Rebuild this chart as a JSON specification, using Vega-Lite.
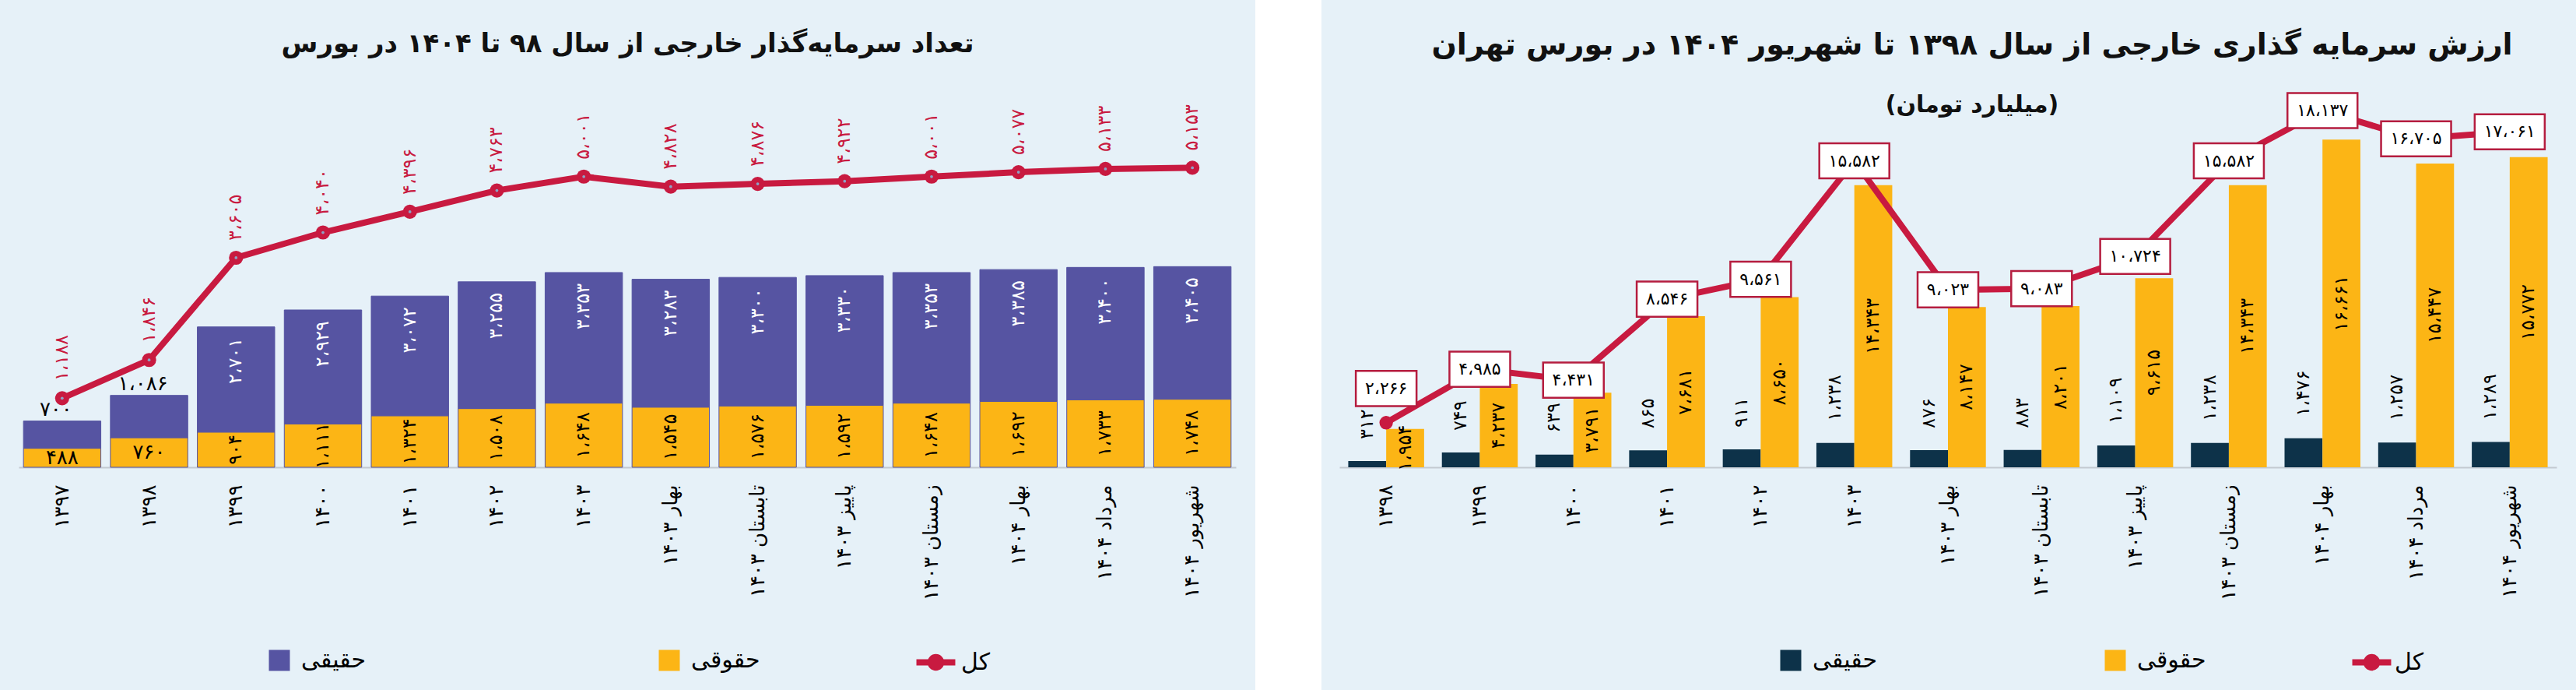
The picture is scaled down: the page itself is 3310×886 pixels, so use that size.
{
  "$schema": "https://vega.github.io/schema/vega-lite/v6.json",
  "background": "#ffffff",
  "padding": 0,
  "spacing": 85,
  "bounds": "flush",
  "resolve": {"scale": {"color": "independent", "stroke": "independent"}, "legend": {"color": "independent", "stroke": "independent"}},
  "config": {
    "font": "DejaVu Sans",
    "view": {"fill": "#e6f1f8", "stroke": null},
    "locale": {"number": {"decimal": "٫", "thousands": "،", "grouping": [3], "currency": ["", ""], "numerals": ["۰","۱","۲","۳","۴","۵","۶","۷","۸","۹"]}},
    "title": {"font": "DejaVu Sans", "subtitleFont": "DejaVu Sans"},
    "legend": {"labelFont": "DejaVu Sans"}
  },
  "datasets": {
    "left": [
      {"دوره": "۱۳۹۷", "حقیقی": 700, "حقوقی": 488, "کل": 1188},
      {"دوره": "۱۳۹۸", "حقیقی": 1086, "حقوقی": 760, "کل": 1846},
      {"دوره": "۱۳۹۹", "حقیقی": 2701, "حقوقی": 904, "کل": 3605},
      {"دوره": "۱۴۰۰", "حقیقی": 2929, "حقوقی": 1111, "کل": 4040},
      {"دوره": "۱۴۰۱", "حقیقی": 3072, "حقوقی": 1324, "کل": 4396},
      {"دوره": "۱۴۰۲", "حقیقی": 3255, "حقوقی": 1508, "کل": 4763},
      {"دوره": "۱۴۰۳", "حقیقی": 3353, "حقوقی": 1648, "کل": 5001},
      {"دوره": "بهار ۱۴۰۳", "حقیقی": 3283, "حقوقی": 1545, "کل": 4828},
      {"دوره": "تابستان ۱۴۰۳", "حقیقی": 3300, "حقوقی": 1576, "کل": 4876},
      {"دوره": "پاییز ۱۴۰۳", "حقیقی": 3330, "حقوقی": 1592, "کل": 4922},
      {"دوره": "زمستان ۱۴۰۳", "حقیقی": 3353, "حقوقی": 1648, "کل": 5001},
      {"دوره": "بهار ۱۴۰۴", "حقیقی": 3385, "حقوقی": 1692, "کل": 5077},
      {"دوره": "مرداد ۱۴۰۴", "حقیقی": 3400, "حقوقی": 1733, "کل": 5133},
      {"دوره": "شهریور ۱۴۰۴", "حقیقی": 3405, "حقوقی": 1748, "کل": 5153}
    ],
    "right": [
      {"دوره": "۱۳۹۸", "حقیقی": 312, "حقوقی": 1954, "کل": 2266},
      {"دوره": "۱۳۹۹", "حقیقی": 749, "حقوقی": 4237, "کل": 4985},
      {"دوره": "۱۴۰۰", "حقیقی": 639, "حقوقی": 3791, "کل": 4431},
      {"دوره": "۱۴۰۱", "حقیقی": 865, "حقوقی": 7681, "کل": 8546},
      {"دوره": "۱۴۰۲", "حقیقی": 911, "حقوقی": 8650, "کل": 9561},
      {"دوره": "۱۴۰۳", "حقیقی": 1238, "حقوقی": 14343, "کل": 15582},
      {"دوره": "بهار ۱۴۰۳", "حقیقی": 876, "حقوقی": 8147, "کل": 9023},
      {"دوره": "تابستان ۱۴۰۳", "حقیقی": 883, "حقوقی": 8201, "کل": 9083},
      {"دوره": "پاییز ۱۴۰۳", "حقیقی": 1109, "حقوقی": 9615, "کل": 10724},
      {"دوره": "زمستان ۱۴۰۳", "حقیقی": 1238, "حقوقی": 14343, "کل": 15582},
      {"دوره": "بهار ۱۴۰۴", "حقیقی": 1476, "حقوقی": 16661, "کل": 18137},
      {"دوره": "مرداد ۱۴۰۴", "حقیقی": 1257, "حقوقی": 15447, "کل": 16705},
      {"دوره": "شهریور ۱۴۰۴", "حقیقی": 1289, "حقوقی": 15772, "کل": 17061}
    ]
  },
  "hconcat": [
    {
      "width": 1613,
      "height": 886,
      "data": {"name": "left"},
      "title": {"text": "تعداد سرمایه‌گذار خارجی از سال ۹۸ تا ۱۴۰۴ در بورس", "fontSize": 34, "fontWeight": "bold", "color": "#111111", "anchor": "middle", "frame": "group", "offset": -74},
      "encoding": {
        "x": {
          "field": "دوره", "type": "nominal",
          "scale": {"domain": ["۱۳۹۷","۱۳۹۸","۱۳۹۹","۱۴۰۰","۱۴۰۱","۱۴۰۲","۱۴۰۳","بهار ۱۴۰۳","تابستان ۱۴۰۳","پاییز ۱۴۰۳","زمستان ۱۴۰۳","بهار ۱۴۰۴","مرداد ۱۴۰۴","شهریور ۱۴۰۴"], "range": [24, 1588], "paddingInner": 0.11, "paddingOuter": 0.055},
          "axis": {"title": null, "labelAngle": 270, "labelFontSize": 26, "labelColor": "#000000", "labelPadding": 22, "ticks": false, "grid": false, "domainColor": "#c3cad1", "domainWidth": 2, "offset": -286, "labelOverlap": false, "labelLimit": 300}
        }
      },
      "layer": [
        {"layer": [
          {
            "transform": [{"fold": ["حقوقی", "حقیقی"], "as": ["series", "value"]}],
            "mark": {"type": "bar", "stroke": "#5654a2", "strokeWidth": 1},
            "encoding": {
              "y": {"field": "value", "type": "quantitative", "stack": "zero", "scale": {"domain": [0, 10000], "range": [600, 100], "nice": false}, "axis": null},
              "color": {"field": "series", "type": "nominal", "scale": {"domain": ["حقیقی", "حقوقی"], "range": ["#5654a2", "#fcb515"]},
                "legend": {"title": null, "orient": "none", "legendX": 344, "legendY": 833, "direction": "horizontal", "columns": 2, "gridAlign": "all", "columnPadding": 369, "symbolType": "square", "symbolSize": 729, "symbolStrokeWidth": 0, "labelFontSize": 30, "labelColor": "#000000", "labelOffset": 13, "padding": 0, "labelLimit": 300}},
              "order": {"field": "series", "sort": "ascending"}
            }
          },
          {
            "transform": [{"filter": {"not": {"field": "دوره", "oneOf": ["۱۳۹۷", "۱۳۹۸"]}}}],
            "mark": {"type": "text", "angle": 270, "align": "right", "baseline": "middle", "dx": -14, "fontSize": 24, "color": "#ffffff"},
            "encoding": {
              "y": {"field": "کل", "type": "quantitative", "scale": {"domain": [0, 10000], "range": [600, 100], "nice": false}, "axis": null},
              "text": {"field": "حقیقی", "type": "quantitative", "format": ","}
            }
          },
          {
            "transform": [{"filter": {"field": "دوره", "oneOf": ["۱۳۹۷", "۱۳۹۸"]}}],
            "mark": {"type": "text", "baseline": "bottom", "dy": -2, "dx": -8, "fontSize": 26, "color": "#000000"},
            "encoding": {
              "y": {"field": "کل", "type": "quantitative", "scale": {"domain": [0, 10000], "range": [600, 100], "nice": false}, "axis": null},
              "text": {"field": "حقیقی", "type": "quantitative", "format": ","}
            }
          }
        ]},
        {"layer": [
          {
            "transform": [{"filter": {"not": {"field": "دوره", "oneOf": ["۱۳۹۷", "۱۳۹۸"]}}}],
            "mark": {"type": "text", "angle": 270, "align": "center", "baseline": "middle", "fontSize": 24, "color": "#000000"},
            "encoding": {
              "y": {"field": "حقوقی", "type": "quantitative", "scale": {"domain": [0, 20000], "range": [600, 100], "nice": false}, "axis": null},
              "text": {"field": "حقوقی", "type": "quantitative", "format": ","}
            }
          },
          {
            "transform": [{"filter": {"field": "دوره", "oneOf": ["۱۳۹۷", "۱۳۹۸"]}}],
            "mark": {"type": "text", "align": "center", "baseline": "middle", "fontSize": 26, "color": "#000000"},
            "encoding": {
              "y": {"field": "حقوقی", "type": "quantitative", "scale": {"domain": [0, 20000], "range": [600, 100], "nice": false}, "axis": null},
              "text": {"field": "حقوقی", "type": "quantitative", "format": ","}
            }
          }
        ]},
        {"layer": [
          {
            "mark": {"type": "line", "strokeWidth": 8},
            "encoding": {
              "y": {"field": "کل", "type": "quantitative", "scale": {"domain": [0, 6700], "range": [600, 100], "nice": false}, "axis": null},
              "stroke": {"datum": "کل", "type": "nominal", "scale": {"domain": ["کل"], "range": ["#c81a40"]},
                "legend": {"title": null, "orient": "none", "legendX": 1185, "legendY": 833, "symbolType": "M-1.85,0L1.85,0M-0.5,0A0.5,0.5,0,1,1,0.5,0A0.5,0.5,0,1,1,-0.5,0", "symbolSize": 729, "symbolStrokeWidth": 8, "labelFontSize": 30, "labelColor": "#000000", "labelOffset": 15, "padding": 0, "labelLimit": 300}},
              "order": {"value": null}
            }
          },
          {
            "mark": {"type": "point", "filled": true, "size": 330, "color": "#c81a40", "opacity": 1},
            "encoding": {"y": {"field": "کل", "type": "quantitative", "scale": {"domain": [0, 6700], "range": [600, 100], "nice": false}, "axis": null}}
          },
          {
            "mark": {"type": "point", "filled": true, "size": 14, "color": "#8ea2c6", "opacity": 1},
            "encoding": {"y": {"field": "کل", "type": "quantitative", "scale": {"domain": [0, 6700], "range": [600, 100], "nice": false}, "axis": null}}
          },
          {
            "mark": {"type": "text", "angle": 270, "align": "left", "baseline": "middle", "dx": 22, "fontSize": 24, "color": "#c81a40"},
            "encoding": {
              "y": {"field": "کل", "type": "quantitative", "scale": {"domain": [0, 6700], "range": [600, 100], "nice": false}, "axis": null},
              "text": {"field": "کل", "type": "quantitative", "format": ","}
            }
          }
        ]}
      ],
      "resolve": {"scale": {"y": "independent"}}
    },
    {
      "width": 1612,
      "height": 886,
      "data": {"name": "right"},
      "title": {"text": "ارزش سرمایه گذاری خارجی از سال ۱۳۹۸ تا شهریور ۱۴۰۴ در بورس تهران", "subtitle": "(میلیارد تومان)", "fontSize": 38, "fontWeight": "bold", "color": "#111111", "subtitleFontSize": 30, "subtitleFontWeight": "bold", "subtitleColor": "#111111", "subtitlePadding": 42, "anchor": "middle", "frame": "group", "offset": -150, "dx": 30},
      "encoding": {
        "x": {
          "field": "دوره", "type": "nominal",
          "scale": {"domain": ["۱۳۹۸","۱۳۹۹","۱۴۰۰","۱۴۰۱","۱۴۰۲","۱۴۰۳","بهار ۱۴۰۳","تابستان ۱۴۰۳","پاییز ۱۴۰۳","زمستان ۱۴۰۳","بهار ۱۴۰۴","مرداد ۱۴۰۴","شهریور ۱۴۰۴"], "range": [23, 1587], "paddingInner": 0.19, "paddingOuter": 0.095},
          "axis": {"title": null, "labelAngle": 270, "labelFontSize": 26, "labelColor": "#000000", "labelPadding": 22, "ticks": false, "grid": false, "domainColor": "#c3cad1", "domainWidth": 2, "offset": -286, "labelOverlap": false, "labelLimit": 300}
        }
      },
      "layer": [
        {"layer": [
          {
            "transform": [{"fold": ["حقیقی", "حقوقی"], "as": ["series", "value"]}],
            "mark": {"type": "bar"},
            "encoding": {
              "xOffset": {"field": "series", "type": "nominal", "scale": {"domain": ["حقیقی", "حقوقی"], "paddingInner": 0, "paddingOuter": 0}},
              "y": {"field": "value", "type": "quantitative", "scale": {"domain": [0, 19800], "range": [600, 100], "nice": false}, "axis": null},
              "color": {"field": "series", "type": "nominal", "scale": {"domain": ["حقیقی", "حقوقی"], "range": ["#0d3249", "#fcb515"]},
                "legend": {"title": null, "orient": "none", "legendX": 588, "legendY": 833, "direction": "horizontal", "columns": 2, "gridAlign": "all", "columnPadding": 285, "symbolType": "square", "symbolSize": 729, "symbolStrokeWidth": 0, "labelFontSize": 30, "labelColor": "#000000", "labelOffset": 13, "padding": 0, "labelLimit": 300}}
            }
          },
          {
            "transform": [{"fold": ["حقیقی", "حقوقی"], "as": ["series", "value"]}, {"filter": "datum.series === 'حقیقی'"}],
            "mark": {"type": "text", "angle": 270, "align": "left", "baseline": "middle", "dx": 28, "fontSize": 24, "color": "#000000"},
            "encoding": {
              "xOffset": {"field": "series", "type": "nominal", "scale": {"domain": ["حقیقی", "حقوقی"], "paddingInner": 0, "paddingOuter": 0}},
              "y": {"field": "value", "type": "quantitative", "scale": {"domain": [0, 19800], "range": [600, 100], "nice": false}, "axis": null},
              "text": {"field": "value", "type": "quantitative", "format": ","}
            }
          },
          {
            "mark": {"type": "line", "strokeWidth": 8},
            "encoding": {
              "y": {"field": "کل", "type": "quantitative", "scale": {"domain": [0, 19800], "range": [600, 100], "nice": false}, "axis": null},
              "stroke": {"datum": "کل", "type": "nominal", "scale": {"domain": ["کل"], "range": ["#c81a40"]},
                "legend": {"title": null, "orient": "none", "legendX": 1332, "legendY": 833, "symbolType": "M-1.85,0L1.85,0M-0.5,0A0.5,0.5,0,1,1,0.5,0A0.5,0.5,0,1,1,-0.5,0", "symbolSize": 729, "symbolStrokeWidth": 8, "labelFontSize": 30, "labelColor": "#000000", "labelOffset": 12, "padding": 0, "labelLimit": 300}},
              "order": {"value": null}
            }
          },
          {
            "mark": {"type": "point", "filled": true, "size": 300, "color": "#c81a40", "opacity": 1},
            "encoding": {"y": {"field": "کل", "type": "quantitative", "scale": {"domain": [0, 19800], "range": [600, 100], "nice": false}, "axis": null}}
          },
          {
            "transform": [{"filter": "datum['کل'] < 10000 && datum['دوره'] !== '۱۳۹۸'"}],
            "mark": {"type": "point", "shape": "M-1,-0.58L1,-0.58L1,0.58L-1,0.58Z", "size": 6084, "filled": true, "fill": "#ffffff", "stroke": "#b51d3f", "strokeWidth": 2.5, "opacity": 1},
            "encoding": {"y": {"field": "کل", "type": "quantitative", "scale": {"domain": [0, 19800], "range": [600, 100], "nice": false}, "axis": null}}
          },
          {
            "transform": [{"filter": "datum['کل'] >= 10000"}],
            "mark": {"type": "point", "shape": "M-1,-0.5L1,-0.5L1,0.5L-1,0.5Z", "size": 8100, "filled": true, "fill": "#ffffff", "stroke": "#b51d3f", "strokeWidth": 2.5, "opacity": 1},
            "encoding": {"y": {"field": "کل", "type": "quantitative", "scale": {"domain": [0, 19800], "range": [600, 100], "nice": false}, "axis": null}}
          },
          {
            "transform": [{"filter": "datum['دوره'] === '۱۳۹۸'"}],
            "mark": {"type": "point", "shape": "M-1,-0.58L1,-0.58L1,0.58L-1,0.58Z", "size": 6084, "filled": true, "fill": "#ffffff", "stroke": "#b51d3f", "strokeWidth": 2.5, "opacity": 1, "yOffset": -44},
            "encoding": {"y": {"field": "کل", "type": "quantitative", "scale": {"domain": [0, 19800], "range": [600, 100], "nice": false}, "axis": null}}
          },
          {
            "transform": [{"filter": "datum['دوره'] !== '۱۳۹۸'"}],
            "mark": {"type": "text", "align": "center", "baseline": "middle", "fontSize": 22, "color": "#000000"},
            "encoding": {
              "y": {"field": "کل", "type": "quantitative", "scale": {"domain": [0, 19800], "range": [600, 100], "nice": false}, "axis": null},
              "text": {"field": "کل", "type": "quantitative", "format": ","}
            }
          },
          {
            "transform": [{"filter": "datum['دوره'] === '۱۳۹۸'"}],
            "mark": {"type": "text", "align": "center", "baseline": "middle", "fontSize": 22, "color": "#000000", "yOffset": -44},
            "encoding": {
              "y": {"field": "کل", "type": "quantitative", "scale": {"domain": [0, 19800], "range": [600, 100], "nice": false}, "axis": null},
              "text": {"field": "کل", "type": "quantitative", "format": ","}
            }
          }
        ]},
        {"layer": [
          {
            "transform": [{"fold": ["حقیقی", "حقوقی"], "as": ["series", "value"]}, {"filter": "datum.series === 'حقوقی'"}],
            "mark": {"type": "text", "angle": 270, "align": "center", "baseline": "middle", "fontSize": 24, "color": "#000000"},
            "encoding": {
              "xOffset": {"field": "series", "type": "nominal", "scale": {"domain": ["حقیقی", "حقوقی"], "paddingInner": 0, "paddingOuter": 0}},
              "y": {"field": "value", "type": "quantitative", "scale": {"domain": [0, 39600], "range": [600, 100], "nice": false}, "axis": null},
              "text": {"field": "value", "type": "quantitative", "format": ","}
            }
          }
        ]}
      ],
      "resolve": {"scale": {"y": "independent"}}
    }
  ]
}
